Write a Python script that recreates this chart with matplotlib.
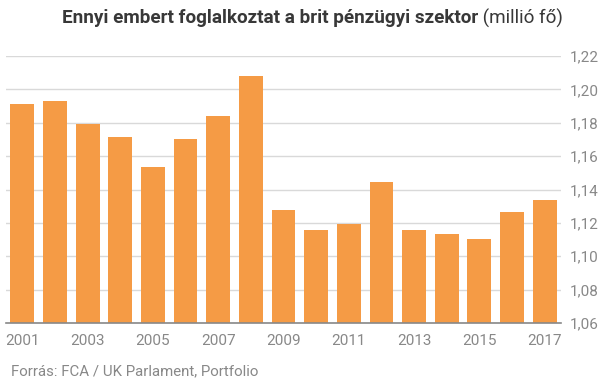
import matplotlib
matplotlib.use("Agg")
import matplotlib.pyplot as plt
from matplotlib.ticker import FixedLocator, FuncFormatter

years = list(range(2001, 2018))
values = [1.1915, 1.193, 1.1795, 1.1717, 1.1537, 1.1705, 1.1843, 1.2083, 1.1279,
          1.1159, 1.1195, 1.1447, 1.1159, 1.1135, 1.1105, 1.1267, 1.1339]
yticks = [1.06, 1.08, 1.10, 1.12, 1.14, 1.16, 1.18, 1.20, 1.22]
xtick_years = [2001, 2003, 2005, 2007, 2009, 2011, 2013, 2015, 2017]

plt.rcParams['font.family'] = ['Roboto', 'DejaVu Sans']

W, H = 605, 379
fig = plt.figure(figsize=(W / 100, H / 100), dpi=100)
ax = fig.add_axes([6 / W, 1 - 323 / H, (561 - 6) / W, (323 - 56) / H])

ax.bar(years, values, width=0.73, color='#F59B45', zorder=3)
ax.set_xlim(years[0] - 0.5, years[-1] + 0.5)
ax.set_ylim(yticks[0], yticks[-1])

ax.yaxis.set_major_locator(FixedLocator(yticks))
ax.yaxis.set_major_formatter(FuncFormatter(lambda v, p: f"{v:.2f}".replace('.', ',')))
ax.yaxis.tick_right()
ax.set_xticks(xtick_years)
ax.set_xticklabels([str(y) for y in xtick_years])

ax.grid(axis='y', color='#d9d9d9', linewidth=1, zorder=0)
for s in ['top', 'left', 'right']:
    ax.spines[s].set_visible(False)
ax.spines['bottom'].set_color('#888888')
ax.spines['bottom'].set_linewidth(1.2)
ax.spines['bottom'].set_zorder(4)
ax.tick_params(axis='both', length=0, labelsize=11, colors='#888888')
ax.tick_params(axis='y', pad=6)
ax.tick_params(axis='x', pad=8)

t1 = fig.text(0, 1 - 18 / H, "Ennyi embert foglalkoztat a brit pénzügyi szektor",
              fontsize=13.6, fontweight='bold', color='#383838', va='center', ha='left')
t2 = fig.text(0, 1 - 18 / H, " (millió fő)", fontsize=13.6, color='#383838', va='center', ha='left')
fig.canvas.draw()
r = fig.canvas.get_renderer()
w1 = t1.get_window_extent(r).width
x0 = 62
t1.set_x(x0 / W)
t2.set_x((x0 + w1) / W)

fig.text(11 / W, 1 - 371 / H, "Forrás: FCA / UK Parlament, Portfolio",
         fontsize=10.8, color='#888888', va='center', ha='left')

fig.savefig("out.png", dpi=100)
